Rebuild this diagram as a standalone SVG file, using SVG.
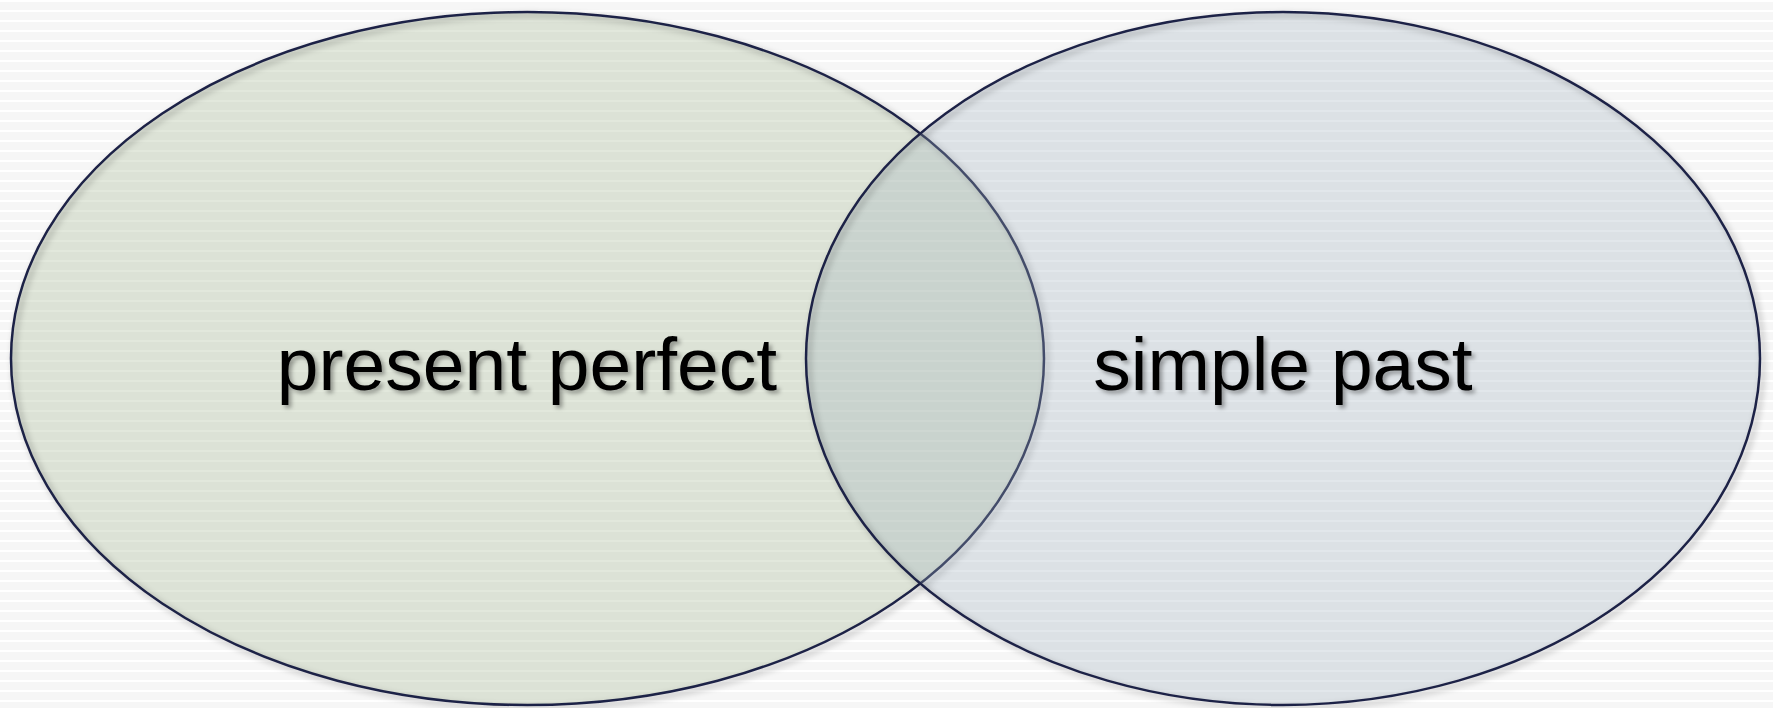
<svg xmlns="http://www.w3.org/2000/svg" width="1773" height="708" viewBox="0 0 1773 708">
  <defs>
    <pattern id="stripes" width="10" height="10" patternUnits="userSpaceOnUse">
      <rect width="10" height="10" fill="#f6f6f6"/>
      <rect y="0" width="10" height="2" fill="#ffffff"/>
    </pattern>
    <filter id="shadow" x="-10%" y="-10%" width="120%" height="120%">
      <feDropShadow dx="3" dy="3" stdDeviation="3" flood-color="#000" flood-opacity="0.35"/>
    </filter>
    <filter id="tshadow" x="-10%" y="-30%" width="120%" height="160%">
      <feDropShadow dx="3" dy="3" stdDeviation="2" flood-color="#000" flood-opacity="0.35"/>
    </filter>
  </defs>
  <style>
    .edge { fill: none; stroke: #1f2346; stroke-width: 2.5; filter: url(#shadow); }
    .fill { stroke: none; fill-opacity: 0.3; }
    .label { font-family: "Liberation Sans", Arial, sans-serif; font-size: 75px; fill: #000; text-anchor: middle; filter: url(#tshadow); }
  </style>
  <rect width="1773" height="708" fill="url(#stripes)"/>
  <g id="present-perfect">
    <ellipse class="fill" cx="527.5" cy="358.5" rx="516.5" ry="346.5" fill="#9eb28a"/>
    <ellipse class="edge" cx="527.5" cy="358.5" rx="516.5" ry="346.5"/>
  </g>
  <g id="simple-past">
    <ellipse class="fill" cx="1283" cy="358.5" rx="477" ry="346.5" fill="#9eafbc"/>
    <ellipse class="edge" cx="1283" cy="358.5" rx="477" ry="346.5"/>
  </g>
  <g id="labels">
    <text class="label" x="527" y="390">present perfect</text>
    <text class="label" x="1283" y="390">simple past</text>
  </g>
  <g id="connectors"/>
</svg>
